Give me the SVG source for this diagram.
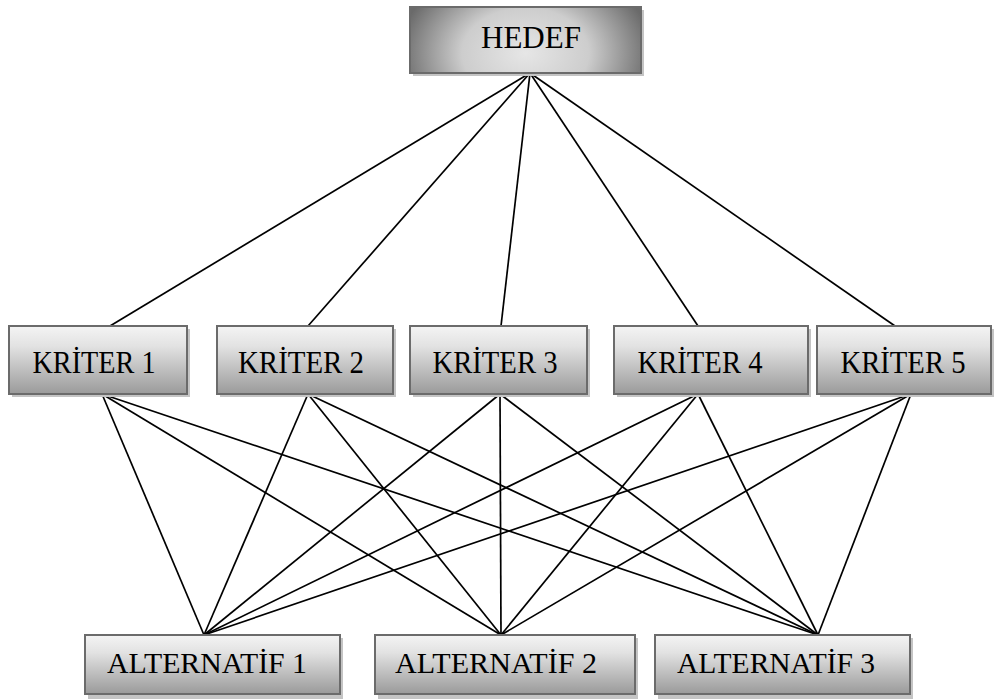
<svg xmlns="http://www.w3.org/2000/svg" width="1003" height="700" viewBox="0 0 1003 700">
<style>
.box{stroke:#6b6b6b;stroke-width:2;fill:url(#g)}
.sh{fill:#c4c4c4}
.lbl{font-family:"Liberation Serif","Times New Roman",serif;font-size:32px;fill:#000;text-anchor:middle}
.alt{font-size:30px}
#connectors line{stroke:#000;stroke-width:1.7}
</style>
<defs>
<linearGradient id="g" x1="0" y1="0" x2="0" y2="1">
<stop offset="0" stop-color="#f4f4f4"/>
<stop offset="0.3" stop-color="#e2e2e2"/>
<stop offset="1" stop-color="#9a9a9a"/>
</linearGradient>
<radialGradient id="rg" cx="0.5" cy="0.7" r="0.55" gradientTransform="translate(0.5,0.7) scale(1,2.5) translate(-0.5,-0.7)">
<stop offset="0" stop-color="#e6e6e6"/>
<stop offset="0.5" stop-color="#cdcdcd"/>
<stop offset="1" stop-color="#6a6a6a"/>
</radialGradient>
</defs>
<rect width="1003" height="700" fill="#fff"/>
<g id="connectors">
<line x1="530" y1="73" x2="110" y2="326"/>
<line x1="530" y1="73" x2="308" y2="326"/>
<line x1="530" y1="73" x2="501" y2="326"/>
<line x1="530" y1="73" x2="698" y2="326"/>
<line x1="530" y1="73" x2="895" y2="326"/>
<line x1="102" y1="394" x2="204" y2="635"/>
<line x1="102" y1="394" x2="501" y2="635"/>
<line x1="102" y1="394" x2="818" y2="635"/>
<line x1="308" y1="394" x2="204" y2="635"/>
<line x1="308" y1="394" x2="501" y2="635"/>
<line x1="308" y1="394" x2="818" y2="635"/>
<line x1="500" y1="394" x2="204" y2="635"/>
<line x1="500" y1="394" x2="501" y2="635"/>
<line x1="500" y1="394" x2="818" y2="635"/>
<line x1="698" y1="394" x2="204" y2="635"/>
<line x1="698" y1="394" x2="501" y2="635"/>
<line x1="698" y1="394" x2="818" y2="635"/>
<line x1="911" y1="394" x2="204" y2="635"/>
<line x1="911" y1="394" x2="501" y2="635"/>
<line x1="911" y1="394" x2="818" y2="635"/>
</g>
<g id="hedef">
<rect class="sh" x="413" y="10" width="231" height="66"/>
<rect x="410" y="7" width="231" height="66" stroke="#6b6b6b" stroke-width="2" fill="url(#rg)"/>
<text class="lbl" x="531" y="48" textLength="100" lengthAdjust="spacingAndGlyphs">HEDEF</text>
</g>
<g id="kriter1">
<rect class="sh" x="12" y="329" width="178" height="68"/>
<rect class="box" x="9" y="326" width="178" height="68"/>
<text class="lbl" x="94" y="373" textLength="123" lengthAdjust="spacingAndGlyphs">KRİTER 1</text>
</g>
<g id="kriter2">
<rect class="sh" x="220" y="329" width="176" height="68"/>
<rect class="box" x="217" y="326" width="176" height="68"/>
<text class="lbl" x="301" y="373" textLength="126" lengthAdjust="spacingAndGlyphs">KRİTER 2</text>
</g>
<g id="kriter3">
<rect class="sh" x="413" y="329" width="177" height="68"/>
<rect class="box" x="410" y="326" width="177" height="68"/>
<text class="lbl" x="495" y="373" textLength="125" lengthAdjust="spacingAndGlyphs">KRİTER 3</text>
</g>
<g id="kriter4">
<rect class="sh" x="617" y="329" width="194" height="68"/>
<rect class="box" x="614" y="326" width="194" height="68"/>
<text class="lbl" x="700" y="373" textLength="125" lengthAdjust="spacingAndGlyphs">KRİTER 4</text>
</g>
<g id="kriter5">
<rect class="sh" x="820" y="329" width="174" height="68"/>
<rect class="box" x="817" y="326" width="174" height="68"/>
<text class="lbl" x="903" y="373" textLength="125" lengthAdjust="spacingAndGlyphs">KRİTER 5</text>
</g>
<g id="alternatif1">
<rect class="sh" x="88" y="638" width="255" height="61"/>
<rect class="box" x="85" y="635" width="255" height="59"/>
<text class="lbl alt" x="207" y="673" textLength="200" lengthAdjust="spacingAndGlyphs">ALTERNATİF 1</text>
</g>
<g id="alternatif2">
<rect class="sh" x="378" y="638" width="260" height="61"/>
<rect class="box" x="375" y="635" width="260" height="59"/>
<text class="lbl alt" x="496" y="673" textLength="202" lengthAdjust="spacingAndGlyphs">ALTERNATİF 2</text>
</g>
<g id="alternatif3">
<rect class="sh" x="658" y="638" width="255" height="61"/>
<rect class="box" x="655" y="635" width="255" height="59"/>
<text class="lbl alt" x="776" y="673" textLength="198" lengthAdjust="spacingAndGlyphs">ALTERNATİF 3</text>
</g>
</svg>
